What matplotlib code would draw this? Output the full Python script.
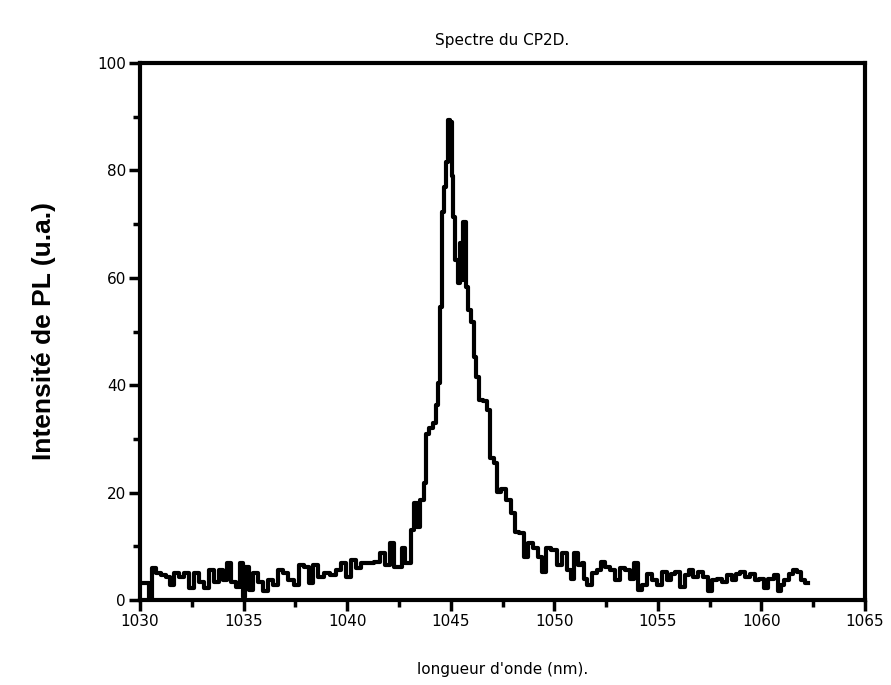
import matplotlib
matplotlib.use("Agg")
import matplotlib.pyplot as plt
from matplotlib.ticker import MultipleLocator

# longueur d'onde (nm) et intensite
wl = [1030.08, 1030.40, 1030.48, 1030.64, 1030.89, 1031.13, 1031.37, 1031.53, 1031.77, 1032.02,
      1032.26, 1032.50, 1032.74, 1032.98, 1033.22, 1033.47, 1033.71, 1033.87, 1034.11, 1034.27,
      1034.51, 1034.76, 1034.92, 1035.00, 1035.16, 1035.32, 1035.56, 1035.80, 1036.05, 1036.29,
      1036.53, 1036.77, 1037.01, 1037.25, 1037.58, 1037.82, 1038.06, 1038.22, 1038.46, 1038.70,
      1039.03, 1039.35, 1039.59, 1039.83, 1040.08, 1040.32, 1040.56, 1040.80, 1041.13, 1041.45,
      1041.77, 1041.93, 1042.17, 1042.33, 1042.57, 1042.73, 1042.89, 1043.06, 1043.14, 1043.30,
      1043.46, 1043.62, 1043.78, 1043.86, 1044.02, 1044.26, 1044.35, 1044.47, 1044.54, 1044.64,
      1044.70, 1044.80, 1044.91, 1045.04, 1045.07, 1045.18, 1045.28, 1045.39, 1045.47, 1045.56,
      1045.67, 1045.80, 1045.88, 1046.04, 1046.17, 1046.31, 1046.44, 1046.68, 1046.84, 1046.97,
      1047.17, 1047.33, 1047.57, 1047.81, 1048.05, 1048.13, 1048.46, 1048.62, 1048.86, 1049.10,
      1049.34, 1049.50, 1049.67, 1049.99, 1050.23, 1050.47, 1050.72, 1050.88, 1051.04, 1051.28,
      1051.36, 1051.52, 1051.68, 1051.92, 1052.16, 1052.33, 1052.57, 1052.81, 1053.05, 1053.29,
      1053.53, 1053.78, 1053.94, 1054.10, 1054.34, 1054.58, 1054.82, 1055.06, 1055.30, 1055.55,
      1055.71, 1055.95, 1056.19, 1056.43, 1056.60, 1056.84, 1057.08, 1057.32, 1057.48, 1057.72,
      1057.96, 1058.21, 1058.45, 1058.69, 1058.85, 1059.10, 1059.34, 1059.58, 1059.82, 1059.98,
      1060.22, 1060.46, 1060.71, 1060.87, 1061.03, 1061.19, 1061.43, 1061.59, 1061.83, 1062.00,
      1062.24]
intensite = [3.1, 3.1, 0.0, 5.9, 5.0, 4.7, 4.3, 2.8, 5.0, 4.3,
             5.0, 2.2, 5.0, 3.4, 2.2, 5.6, 3.4, 5.6, 3.7, 6.8,
             3.4, 2.5, 6.8, 0.5, 6.2, 1.9, 5.0, 3.4, 1.6, 3.7,
             2.8, 5.6, 5.0, 3.7, 2.8, 6.5, 6.2, 3.1, 6.5, 4.3,
             5.0, 4.7, 5.6, 6.8, 4.3, 7.5, 5.9, 6.8, 6.8, 7.1,
             8.7, 6.5, 10.6, 6.2, 6.2, 9.6, 6.8, 6.8, 13.0, 18.0,
             13.6, 18.6, 21.8, 31.0, 32.0, 33.0, 36.3, 40.4, 54.6, 72.3,
             77.0, 81.6, 89.4, 89.0, 78.9, 71.4, 63.3, 59.0, 66.5, 59.5,
             70.4, 58.3, 54.0, 51.8, 45.3, 41.5, 37.2, 37.0, 35.4, 26.4,
             25.5, 20.2, 20.6, 18.6, 16.2, 12.7, 12.4, 8.0, 10.6, 9.6,
             8.0, 5.3, 9.6, 9.3, 6.5, 8.7, 5.6, 4.0, 8.7, 6.5,
             6.8, 4.0, 2.8, 5.0, 5.6, 7.1, 6.2, 5.6, 3.7, 5.9,
             5.6, 4.0, 6.8, 1.9, 2.8, 4.9, 3.7, 2.8, 5.3, 3.7,
             4.9, 5.3, 2.5, 4.6, 5.6, 4.3, 5.3, 4.3, 1.6, 3.7,
             4.0, 3.4, 4.6, 3.7, 4.9, 5.3, 4.3, 4.9, 3.7, 4.0,
             2.2, 4.0, 4.6, 1.6, 2.8, 3.7, 4.9, 5.6, 5.3, 3.7,
             3.1]

fig = plt.figure(figsize=(8.91, 6.85), dpi=100)
ax = fig.add_axes([140/891, 1 - 600/685, 725/891, 537/685])

ax.plot(wl, intensite, color='black', linewidth=3, drawstyle='steps-mid')

ax.set_xlim(1030, 1065)
ax.set_ylim(0, 100)
ax.xaxis.set_major_locator(MultipleLocator(5))
ax.xaxis.set_minor_locator(MultipleLocator(2.5))
ax.yaxis.set_major_locator(MultipleLocator(20))
ax.yaxis.set_minor_locator(MultipleLocator(10))

for s in ax.spines.values():
    s.set_linewidth(3)
ax.tick_params(which='major', direction='out', length=8, width=2.5, labelsize=11, pad=2)
ax.tick_params(which='minor', direction='out', length=5, width=2.5)

ax.set_title('Spectre du CP2D.', fontsize=11, pad=13)
ax.set_xlabel("longueur d'onde (nm).", fontsize=11, labelpad=24)
ax.set_ylabel('Intensité de PL (u.a.)', fontsize=19, fontweight='bold',
              family='Liberation Sans', labelpad=30)

fig.savefig('out.png', dpi=100)
